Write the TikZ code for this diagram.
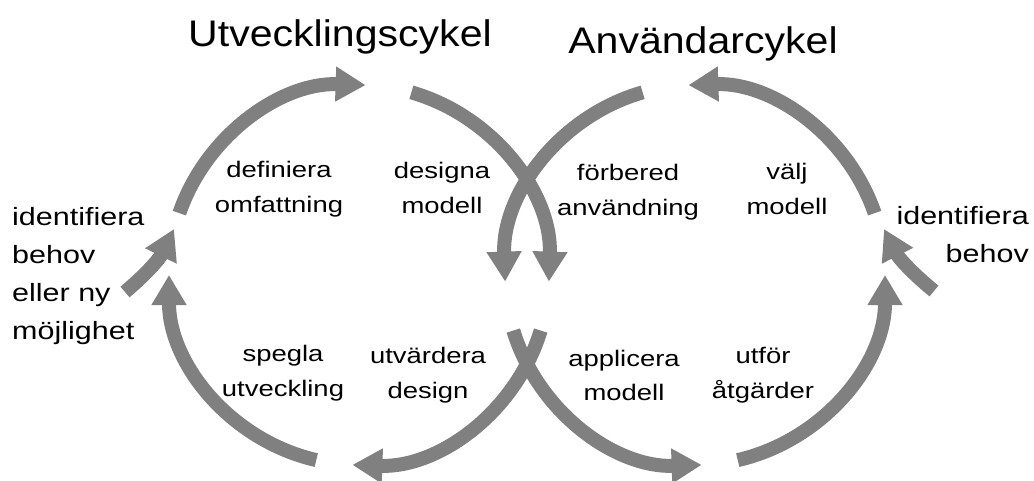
\documentclass[tikz,border=0pt]{standalone}
\usepackage{fontspec}
\setmainfont{Liberation Sans}
\newfontfamily\titlefam[FakeStretch=1.11]{Liberation Sans}
\newfontfamily\labelfam[FakeStretch=1.22]{Liberation Sans}
\newfontfamily\sidefam[FakeStretch=1.22]{Liberation Sans}
\usetikzlibrary{arrows.meta}
\definecolor{arrowgray}{RGB}{128,128,128}
% two centred lines, baseline on the first one
\newcommand\twoc[2]{\begin{tabular}[t]{@{}c@{}}#1\\#2\end{tabular}}

\begin{document}
\begin{tikzpicture}[x=1pt,y=1pt,
  flow/.style={draw=arrowgray, line width=14pt, -{Triangle[width=33pt,length=30pt]}},
  cycletitle/.style={anchor=base, inner sep=0pt, font=\titlefam\fontsize{37}{44}\selectfont},
  phase/.style={anchor=base, inner sep=0pt, font=\labelfam\fontsize{22.5}{35}\selectfont},
  side/.style={inner sep=0pt, font=\sidefam\fontsize{25}{38}\selectfont}]
\fill[white] (0,0) rectangle (1034,480);
\useasboundingbox (0,0) rectangle (1034,480);

% centres of the two cycles
\coordinate (L) at (359,205);
\coordinate (R) at (695,205);

% development cycle (clockwise)
\draw[flow] ([shift={(161:190)}]L) arc[start angle=161, end angle=88, radius=190];
\draw[flow] ([shift={(74:190)}]L) arc[start angle=74, end angle=-2, radius=190];
\draw[flow] ([shift={(-17:190)}]L) arc[start angle=-17, end angle=-92, radius=190];
\draw[flow] ([shift={(257:190)}]L) arc[start angle=257, end angle=180, radius=190];

% user cycle (counter-clockwise)
\draw[flow] ([shift={(19:190)}]R) arc[start angle=19, end angle=92, radius=190];
\draw[flow] ([shift={(106:190)}]R) arc[start angle=106, end angle=182, radius=190];
\draw[flow] ([shift={(197:190)}]R) arc[start angle=197, end angle=272, radius=190];
\draw[flow] ([shift={(283:190)}]R) arc[start angle=283, end angle=360, radius=190];

% entry arrows
\coordinate (inL) at (125,188);
\coordinate (tipL) at (174,251);
\coordinate (inR) at (934,189);
\coordinate (tipR) at (884,251);
\draw[flow] (inL) to[bend right=12] (tipL);
\draw[flow] (inR) to[bend left=12] (tipR);

% titles
\node[cycletitle] (devtitle) at (340,433) {Utvecklingscykel};
\node[cycletitle] (usetitle) at (703,426) {Användarcykel};

% phases of the development cycle
\node[phase] (define) at (279,302) {\twoc{definiera}{omfattning}};
\node[phase] (design) at (442,301) {\twoc{designa}{modell}};
\node[phase] (evaluate) at (428,117) {\twoc{utvärdera}{design}};
\node[phase] (reflect) at (283,119) {\twoc{spegla}{utveckling}};

% phases of the user cycle
\node[phase] (prepare) at (628,299) {\twoc{förbered}{användning}};
\node[phase] (choose) at (787,300) {\twoc{välj}{modell}};
\node[phase] (apply) at (624,114) {\twoc{applicera}{modell}};
\node[phase] (act) at (763,117) {\twoc{utför}{åtgärder}};

% entry labels
\node[side, anchor=base west] (needL) at (12,254)
  {\begin{tabular}[t]{@{}l@{}}identifiera\\behov\\eller ny\\möjlighet\end{tabular}};
\node[side, anchor=base east] (needR) at (1029,255)
  {\begin{tabular}[t]{@{}r@{}}identifiera\\behov\end{tabular}};
\end{tikzpicture}
\end{document}
